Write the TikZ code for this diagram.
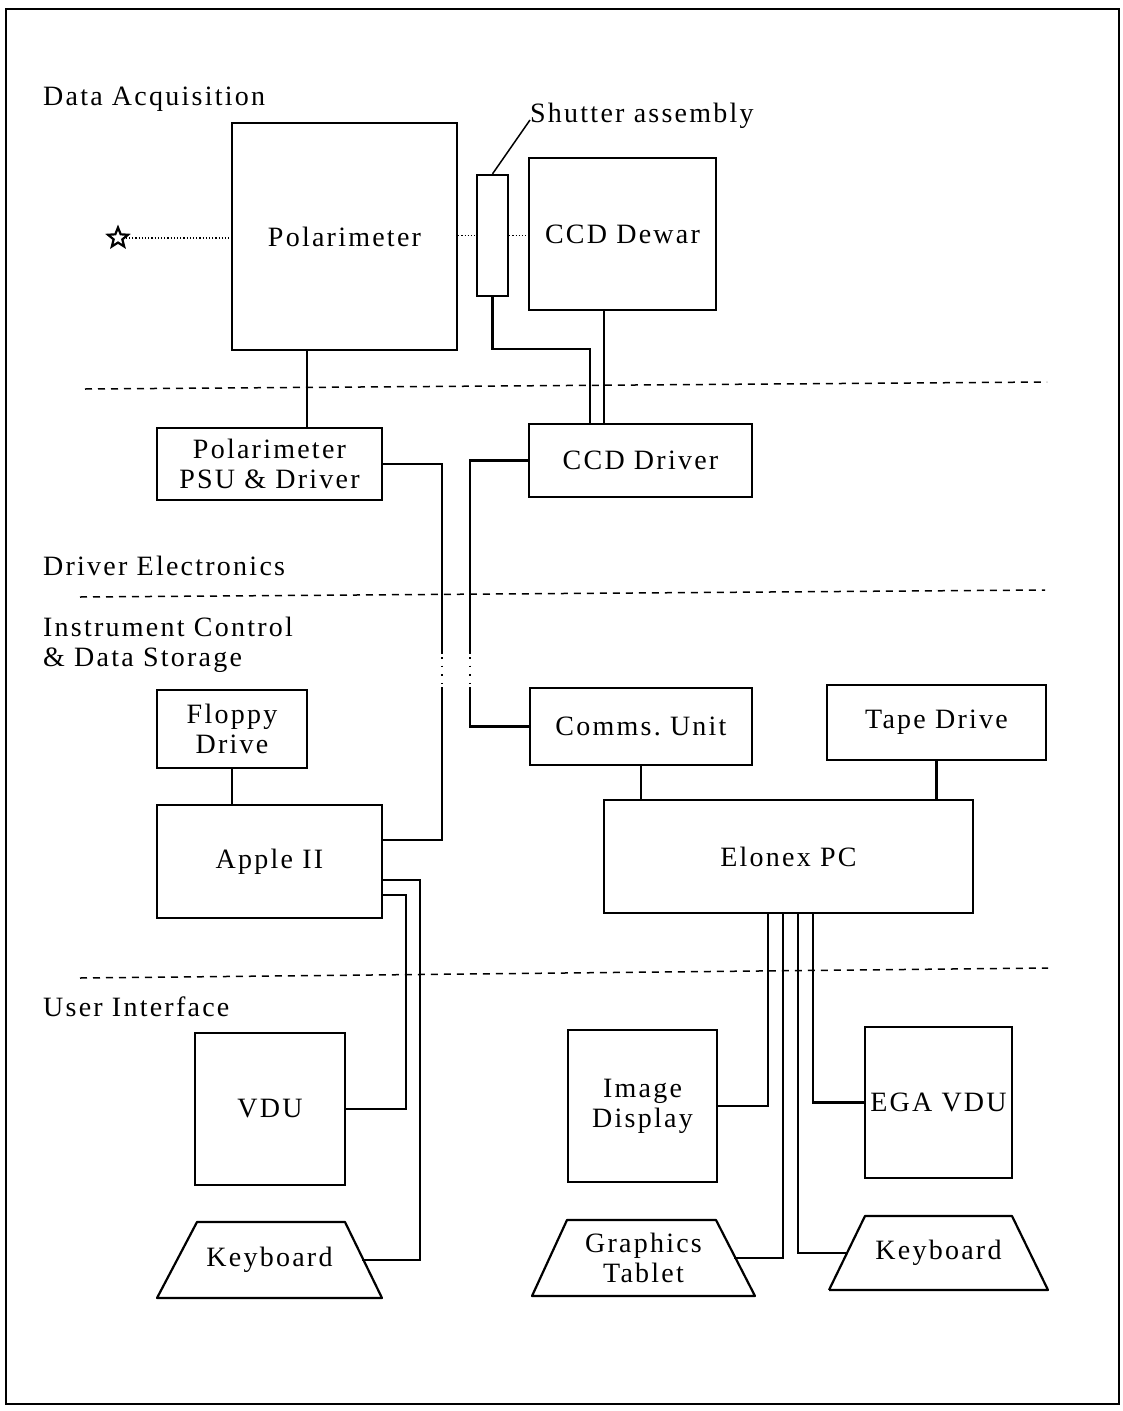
\documentclass[tikz,border=0pt]{standalone}
\usepackage{fontspec}
\setmainfont{Liberation Serif}[LetterSpace=8]
\usetikzlibrary{shapes.geometric,calc}

\newcommand{\lblfont}{\fontsize{28}{30}\selectfont}

\tikzset{
  wire/.style={line width=2.2pt, line cap=rect},
  blk/.style={draw, line width=2.2pt, inner sep=0pt, align=center, font=\lblfont},
  txt/.style={inner sep=0pt, align=center, font=\lblfont},
  sect/.style={inner sep=0pt, anchor=base west, align=left, font=\lblfont},
  sep/.style={line width=1.5pt, dash pattern=on 7pt off 6pt},
  beam/.style={line width=1.2pt, dash pattern=on 1.2pt off 2pt},
  gapdots/.style={line width=1.6pt, dash pattern=on 1.6pt off 7pt},
}

\begin{document}
\begin{tikzpicture}[x=1pt, y=-1pt]
\useasboundingbox (0,0) rectangle (1123,1411);

% outer frame
\draw[line width=2.4pt] (6,9) rectangle (1119,1404);

% section headings and separators
\node[sect] (hdDA) at (43,105) {Data Acquisition};
\node[sect] (hdDE) at (43,575) {Driver Electronics};
\node[sect] (hdIC) at (43,666) {Instrument Control\\\& Data Storage};
\node[sect] (hdUI) at (43,1016) {User Interface};
\draw[sep] (85,389) -- (1047,382);
\draw[sep] (80,597) -- (1045,590);
\draw[sep] (80,978) -- (1048,968);

% data acquisition
\node[star, star points=5, star point ratio=2.3, draw, line width=2.2pt,
      minimum size=21pt, inner sep=0pt] (star) at (118,238) {};
\node[blk, minimum width=225, minimum height=227] (pol) at (344.5,236.5) {Polarimeter};
\node[blk, minimum width=31, minimum height=121] (shut) at (492.5,235.5) {};
\node[blk, minimum width=187, minimum height=152] (dewar) at (622.5,234) {CCD Dewar};
\node[inner sep=0pt, anchor=base west, font=\lblfont] (shutlbl) at (530,122) {Shutter assembly};

\draw[beam] (star.east) -- (pol.west |- star.east);
\draw[beam] (pol.east |- shut.west) -- (shut.west);
\draw[beam] (shut.east) -- (dewar.west |- shut.east);
\draw[line width=1.5pt] (shut.north) -- ([yshift=2]shutlbl.base west);

% driver electronics
\node[blk, minimum width=225, minimum height=72] (psu) at (269.5,464) {Polarimeter\\PSU \& Driver};
\node[blk, minimum width=223, minimum height=73] (ccdd) at (640.5,460.5) {CCD Driver};

\draw[wire] ([xshift=-37.5]pol.south) -- ([xshift=-37.5]pol.south |- psu.north);
\draw[wire] (shut.south) |- ([xshift=-50.5]ccdd.north |- 0,349) -- ([xshift=-50.5]ccdd.north);
\draw[wire] ([xshift=-18.5]dewar.south) -- ([xshift=-18.5]dewar.south |- ccdd.north);

% instrument control and data storage
\coordinate (gapA) at (0,653);
\coordinate (gapB) at (0,688);
\node[blk, minimum width=150, minimum height=78] (floppy) at (232,729) {Floppy\\Drive};
\node[blk, minimum width=225, minimum height=113] (apple) at (269.5,861.5) {Apple II};
\node[blk, minimum width=222, minimum height=77] (comms) at (641,726.5) {Comms.\ Unit};
\node[blk, minimum width=219, minimum height=75] (tape) at (936.5,722.5) {Tape Drive};
\node[blk, minimum width=369, minimum height=113] (pc) at (788.5,856.5) {Elonex PC};

% polarimeter driver to Apple II
\draw[wire] (psu.east) -- ++(59,0) coordinate (pa) -- (pa |- gapA);
\draw[gapdots] ([yshift=-4]pa |- gapA) -- (pa |- gapB);
\draw[wire] (pa |- gapB) |- ([yshift=21.5]apple.east);
% CCD driver to comms unit
\draw[wire] (ccdd.west) -- ++(-58,0) coordinate (cc) -- (cc |- gapA);
\draw[gapdots] ([yshift=-4]cc |- gapA) -- (cc |- gapB);
\draw[wire] (cc |- gapB) |- (comms.west);

\draw[wire] (floppy.south) -- (floppy.south |- apple.north);
\draw[wire] (comms.south) -- (comms.south |- pc.north);
\draw[wire] (tape.south) -- (tape.south |- pc.north);

% user interface: display units
\node[blk, minimum width=150, minimum height=152] (vdu) at (270,1109) {VDU};
\node[blk, minimum width=149, minimum height=152] (imgd) at (642.5,1106) {Image\\Display};
\node[blk, minimum width=147, minimum height=151] (ega) at (938.5,1102.5) {EGA VDU};

% user interface: input devices drawn as trapezia
\node[txt] (kbA) at (269.5,1260) {Keyboard};
\draw[line width=2.2pt, line join=round]
  (157,1298) -- (382,1298) -- (345,1222) coordinate[pos=0.5] (kbA-e) -- (197,1222) -- cycle;
\node[txt] (tab) at (643.5,1258) {Graphics\\Tablet};
\draw[line width=2.2pt, line join=round]
  (532,1296) -- (755,1296) -- (716,1220) coordinate[pos=0.5] (tab-e) -- (567,1220) -- cycle;
\node[txt] (kbB) at (938.5,1253) {Keyboard};
\draw[line width=2.2pt, line join=round]
  (829,1290) -- (1048,1290) -- (1012,1216) -- (865,1216) -- (829,1290) coordinate[pos=0.5] (kbB-w);

\draw[wire] ([yshift=-18.5]apple.east) -- ++(37,0) |- (kbA-e);
\draw[wire] ([yshift=-33.5]apple.east) -- ++(23,0) |- (vdu.east);
\draw[wire] ([xshift=-20.5]pc.south) |- (imgd.east);
\draw[wire] ([xshift=-5.5]pc.south) |- (tab-e);
\draw[wire] ([xshift=9.5]pc.south) |- (kbB-w);
\draw[wire] ([xshift=24.5]pc.south) |- (ega.west);
\end{tikzpicture}
\end{document}
